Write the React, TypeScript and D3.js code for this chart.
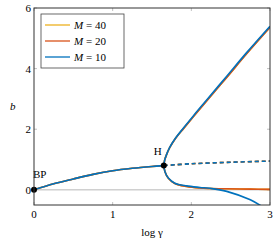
import React from "react";
import * as d3 from "d3";

// x values are log γ, y values are b
const trunk: [number, number][] = [
  [0, 0], [0.25, 0.2], [0.5, 0.36], [0.75, 0.51], [1.0, 0.63], [1.25, 0.71], [1.5, 0.77], [1.65, 0.8],
];
const unstable: [number, number][] = [
  [1.65, 0.8], [2.0, 0.86], [2.5, 0.91], [3.0, 0.95],
];
const upperM10: [number, number][] = [
  [1.65, 0.8], [1.66, 0.97], [1.68, 1.13], [1.725, 1.4], [1.8, 1.71], [1.9, 2.04], [2.025, 2.44],
  [2.2, 2.98], [2.45, 3.75], [2.7, 4.52], [3.0, 5.4],
];
const upperM20: [number, number][] = [
  [1.65, 0.8], [1.66, 0.97], [1.68, 1.13], [1.725, 1.39], [1.8, 1.7], [1.9, 2.02], [2.025, 2.41],
  [2.2, 2.95], [2.45, 3.71], [2.7, 4.48], [3.0, 5.36],
];
const lowerM10: [number, number][] = [
  [1.65, 0.8], [1.665, 0.6], [1.708, 0.39], [1.79, 0.22], [1.94, 0.13], [2.11, 0.08], [2.24, 0.05],
  [2.45, -0.05], [2.75, -0.33], [2.9, -0.55],
];
const lowerM20: [number, number][] = [
  [1.65, 0.8], [1.665, 0.6], [1.708, 0.38], [1.79, 0.21], [1.94, 0.11], [2.11, 0.06], [2.24, 0.045],
  [2.45, 0.035], [2.75, 0.025], [3.0, 0.015],
];
const lowerM40: [number, number][] = lowerM20;

const series = [
  { name: "40", color: "#EDB120", upper: upperM20, lower: lowerM40 },
  { name: "20", color: "#D95319", upper: upperM20, lower: lowerM20 },
  { name: "10", color: "#0072BD", upper: upperM10, lower: lowerM10 },
];

const xTicks = [0, 1, 2, 3];
const yTicks = [0, 2, 4, 6];
const points = [
  { label: "BP", x: 0, y: 0 },
  { label: "H", x: 1.65, y: 0.8 },
];

const font = "'Liberation Serif', 'Times New Roman', 'DejaVu Serif', serif";

export default function App() {
  const width = 278;
  const height = 242;
  const margin = { top: 8, right: 8, bottom: 37, left: 34 };

  const x = d3.scaleLinear().domain([0, 3]).range([margin.left, width - margin.right]);
  const y = d3.scaleLinear().domain([-0.5, 6]).range([height - margin.bottom, margin.top]);

  const line = d3
    .line<[number, number]>()
    .x((d) => x(d[0]))
    .y((d) => y(d[1]))
    .curve(d3.curveCatmullRom.alpha(0.5));

  const [x0, x1] = x.range();
  const [y0, y1] = y.range();
  const tickColor = "#b0b0b0";
  const lw = 1.6;

  return (
    <svg width={width} height={height} style={{ position: "absolute", left: 0, top: 0, fontFamily: font }}>
      <defs>
        <clipPath id="plot">
          <rect x={x0} y={y1} width={x1 - x0} height={y0 - y1} />
        </clipPath>
      </defs>

      {/* ticks inside on all sides */}
      {xTicks.map((t) => (
        <g key={"xt" + t} stroke={tickColor} strokeWidth={0.8}>
          <line x1={x(t)} x2={x(t)} y1={y0} y2={y0 - 3} />
          <line x1={x(t)} x2={x(t)} y1={y1} y2={y1 + 3} />
        </g>
      ))}
      {yTicks.map((t) => (
        <g key={"yt" + t} stroke={tickColor} strokeWidth={0.8}>
          <line x1={x0} x2={x0 + 3} y1={y(t)} y2={y(t)} />
          <line x1={x1} x2={x1 - 3} y1={y(t)} y2={y(t)} />
        </g>
      ))}

      {/* zero line */}
      <line x1={x0} x2={x1} y1={y(0)} y2={y(0)} stroke="#b8b8b8" strokeWidth={1} />

      <g clipPath="url(#plot)" fill="none" strokeWidth={lw}>
        {series.map((s) => (
          <g key={s.name} stroke={s.color}>
            <path d={line(trunk) ?? ""} />
            <path d={line(unstable) ?? ""} strokeDasharray="4 3" />
            <path d={line(s.upper) ?? ""} />
            <path d={line(s.lower) ?? ""} />
          </g>
        ))}
      </g>

      {points.map((p) => (
        <g key={p.label}>
          <circle cx={x(p.x)} cy={y(p.y)} r={3} fill="black" />
          <text
            x={p.label === "BP" ? x(p.x) - 1 : x(p.x) - 10}
            y={y(p.y) - (p.label === "BP" ? 12 : 11)}
            fontSize={11}
          >
            {p.label}
          </text>
        </g>
      ))}

      {/* axis box */}
      <rect x={x0} y={y1} width={x1 - x0} height={y0 - y1} fill="none" stroke="#333" strokeWidth={1} />

      {xTicks.map((t) => (
        <text key={"xl" + t} x={x(t)} y={y0 + 13} textAnchor="middle" fontSize={11}>
          {t}
        </text>
      ))}
      {yTicks.map((t) => (
        <text key={"yl" + t} x={x0 - 3} y={y(t) + 4} textAnchor="end" fontSize={11}>
          {t}
        </text>
      ))}

      <text x={(x0 + x1) / 2} y={height - 6} textAnchor="middle" fontSize={11}>
        log γ
      </text>
      <text x={10} y={(y0 + y1) / 2 + 3} fontSize={11} fontStyle="italic">
        b
      </text>

      {/* legend */}
      <g transform="translate(41,14)">
        <rect width={83} height={54} fill="white" stroke="#444" strokeWidth={0.8} />
        {series.map((s, i) => (
          <g key={"lg" + s.name} transform={`translate(0,${11 + i * 16})`}>
            <line x1={4} x2={29} y1={0} y2={0} stroke={s.color} strokeWidth={1.3} />
            <text x={33} y={4} fontSize={11}>
              <tspan fontStyle="italic">M</tspan> = {s.name}
            </text>
          </g>
        ))}
      </g>
    </svg>
  );
}
